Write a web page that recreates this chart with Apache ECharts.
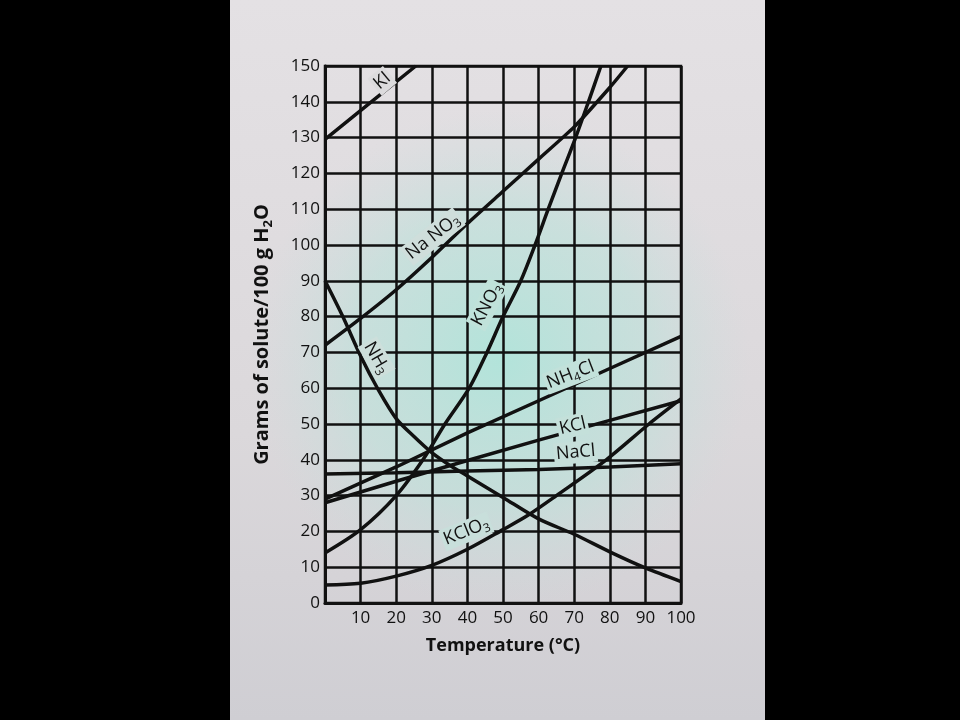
<!DOCTYPE html>
<html>
<head>
<meta charset="utf-8">
<script src="https://cdn.jsdelivr.net/npm/echarts/dist/echarts.min.js"></script>
<style>html,body{margin:0;padding:0;background:#000}#c{width:960px;height:720px}</style>
</head>
<body>
<div id="c"></div>
<script>
// ---- data (temperature °C, grams / 100 g H2O) ----
const kiT    = [0, 13, 25.5];
const kiS    = [129.5, 140, 150];
const nano3T = [0, 10, 20, 30, 40, 50, 60, 70, 80, 85];
const nano3S = [72, 79.5, 87.5, 96.5, 106, 115, 124, 133, 144, 150];
const kno3T  = [0, 10, 20, 27.5, 33.7, 40.5, 45.5, 50, 55, 59, 62.7, 66.5, 70.4, 74, 77.5];
const kno3S  = [14, 20.5, 30, 40, 50, 60, 70, 80, 90, 100, 110, 120, 130, 140, 150];
const nh3T   = [0, 5, 10, 15, 20, 25, 30, 35, 40, 50, 60, 70, 80, 90, 100];
const nh3S   = [90, 80, 69, 59.5, 51.5, 46.5, 42, 38.5, 35.5, 29.5, 23.5, 19.2, 14.3, 9.8, 6];
const nh4clT = [0, 20, 40, 60, 80, 100];
const nh4clS = [29, 38, 47.5, 56.5, 65.5, 74.5];
const kclT   = [0, 20, 40, 60, 80, 100];
const kclS   = [28, 34, 39.8, 45.5, 51, 56.5];
const naclT  = [0, 20, 40, 60, 80, 100];
const naclS  = [36, 36.4, 36.9, 37.3, 38, 38.9];
const kclo3T = [0, 10, 20, 30, 40, 50, 57, 65, 79, 91, 100];
const kclo3S = [5, 5.5, 7.5, 10.5, 15, 20.5, 24.5, 30, 40, 50, 57];
const xTickLabels = ['', '10', '20', '30', '40', '50', '60', '70', '80', '90', '100'];
const yTickLabels = ['0','10','20','30','40','50','60','70','80','90','100','110','120','130','140','150'];

const zip = (t, s) => t.map((v, i) => [v, s[i]]);
const curves = [
  { name: 'KI',     data: zip(kiT, kiS),       smooth: false },
  { name: 'NaNO3',  data: zip(nano3T, nano3S), smooth: 0.2 },
  { name: 'KNO3',   data: zip(kno3T, kno3S),   smooth: 0.3 },
  { name: 'NH3',    data: zip(nh3T, nh3S),     smooth: 0.3 },
  { name: 'NH4Cl',  data: zip(nh4clT, nh4clS), smooth: false },
  { name: 'KCl',    data: zip(kclT, kclS),     smooth: false },
  { name: 'NaCl',   data: zip(naclT, naclS),   smooth: false },
  { name: 'KClO3',  data: zip(kclo3T, kclo3S), smooth: 0.3 }
];

// label styling: which data point to anchor to, screen offset, rotation, backdrop
const labelStyle = {
  'KI':    { text: '{n|KI}',            at: 1, dx: 11, dy: -21, rot: 40, bg: '#dcdbdd' },
  'NaNO3': { text: '{n|Na NO}{s|3}',    at: 3, dx: 1,  dy: -21, rot: 38, bg: '#cfdedb' },
  'KNO3':  { text: '{n|KNO}{s|3}',      at: 7, dx: -16, dy: -12, rot: 62, bg: '#c0e2da' },
  'NH3':   { text: '{n|NH}{s|3}',       at: 2, dx: 16, dy: 2,  rot: -60, bg: '#cddfdb' },
  'NH4Cl': { text: '{n|NH}{s|4}{n|Cl}', at: 3, dx: 32, dy: -26, rot: 21, bg: '#c2e1da' },
  'KCl':   { text: '{n|KCl}',           at: 3, dx: 34, dy: -14, rot: 13, bg: '#c4e0da' },
  'NaCl':  { text: '{n|NaCl}',          at: 3, dx: 37, dy: -17, rot: 5,  bg: '#c6dfda' },
  'KClO3': { text: '{n|KClO}{s|3}',     at: 4, dx: -1, dy: -18, rot: 22, bg: '#c8dfdb' }
};

const FONT = '"Open Sans", "DejaVu Sans", sans-serif';
const INK = '#111111';
const rich = {
  n: { fontFamily: FONT, fontSize: 18, fill: INK, color: INK, lineHeight: 22 },
  s: { fontFamily: FONT, fontSize: 12, fill: INK, color: INK, lineHeight: 22, verticalAlign: 'bottom', padding: [6, 0, 0, 0] }
};

const chart = echarts.init(document.getElementById('c'), null, { renderer: 'canvas' });

const bgGraphics = [
  { type: 'rect', id: 'paper', z: -20, silent: true,
    shape: { x: 230, y: 0, width: 535, height: 720 },
    style: { fill: new echarts.graphic.LinearGradient(0, 0, 0, 1, [
      { offset: 0, color: '#e4e1e4' }, { offset: 0.6, color: '#dbd8db' }, { offset: 1, color: '#cfced3' }]) } },
  { type: 'rect', id: 'tint', z: -15, silent: true,
    shape: { x: 250, y: 70, width: 500, height: 580 },
    style: { fill: new echarts.graphic.RadialGradient(0.5, 0.5, 0.5, [
      { offset: 0, color: 'rgba(176,228,218,0.95)' },
      { offset: 0.6, color: 'rgba(185,226,218,0.55)' },
      { offset: 1, color: 'rgba(200,220,220,0)' }]) } }
];

const option = {
  backgroundColor: '#000',
  animation: false,
  grid: { left: 325, right: 279, top: 66, bottom: 117, show: true, borderColor: INK, borderWidth: 2.5, backgroundColor: 'transparent' },
  xAxis: {
    type: 'value', min: 0, max: 100, interval: 10,
    name: 'Temperature (°C)', nameLocation: 'middle', nameGap: 34,
    nameTextStyle: { fontFamily: FONT, fontSize: 18, fontWeight: 'bold', color: INK },
    axisLine: { show: true, lineStyle: { color: INK, width: 3 } },
    axisTick: { show: false },
    axisLabel: { margin: 7, fontFamily: FONT, fontSize: 17, color: INK,
      formatter: (v) => xTickLabels[Math.round(v / 10)] },
    splitLine: { show: true, lineStyle: { color: INK, width: 2.5 } }
  },
  yAxis: {
    type: 'value', min: 0, max: 150, interval: 10,
    name: '{b|Grams of solute/100 g H}{bs|2}{b|O}', nameLocation: 'middle', nameGap: 50, nameRotate: 90,
    nameTextStyle: { rich: {
      b: { fontFamily: FONT, fontSize: 20, fontWeight: 'bold', color: INK, lineHeight: 26 },
      bs: { fontFamily: FONT, fontSize: 13, fontWeight: 'bold', color: INK, lineHeight: 26, verticalAlign: 'bottom', padding: [6, 0, 0, 0] } } },
    axisLine: { show: true, lineStyle: { color: INK, width: 3 } },
    axisTick: { show: false },
    axisLabel: { margin: 5, fontFamily: FONT, fontSize: 17, color: INK,
      formatter: (v) => yTickLabels[Math.round(v / 10)] },
    splitLine: { show: true, lineStyle: { color: INK, width: 2.5 } }
  },
  graphic: bgGraphics,
  series: curves.map(c => ({
    type: 'line', name: c.name, data: c.data, smooth: c.smooth,
    showSymbol: false, symbol: 'none', clip: true, z: 5,
    lineStyle: { color: INK, width: 3.5 }
  }))
};
chart.setOption(option);

// place curve labels relative to points converted through the chart's scales
const labelGraphics = curves.map(c => {
  const ls = labelStyle[c.name];
  const p = chart.convertToPixel({ gridIndex: 0 }, c.data[ls.at]);
  return {
    type: 'text', id: 'lbl_' + c.name, z: 50, silent: true,
    x: p[0] + ls.dx, y: p[1] + ls.dy, rotation: ls.rot * Math.PI / 180,
    style: { text: ls.text, rich: rich, align: 'center', verticalAlign: 'middle', fill: INK,
      fontFamily: FONT, fontSize: 18, backgroundColor: ls.bg, padding: [0, 2, 0, 2] }
  };
});
chart.setOption({ graphic: bgGraphics.concat(labelGraphics) });
</script>
</body>
</html>
